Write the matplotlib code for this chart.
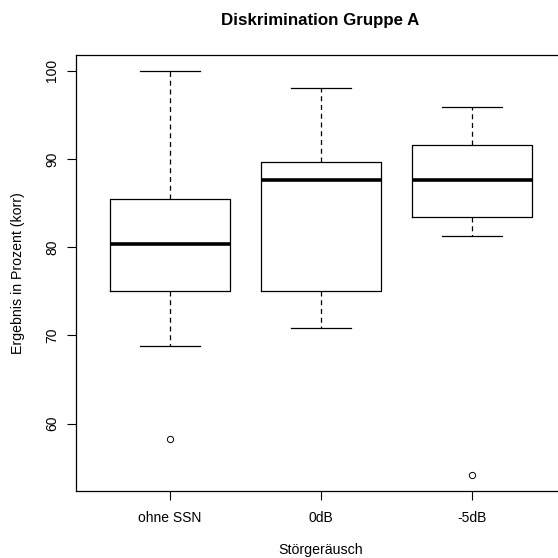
import matplotlib
matplotlib.use("Agg")
import matplotlib.pyplot as plt

categories = ["ohne SSN", "0dB", "-5dB"]
whislo = [68.8, 70.85, 81.3]
q1 = [75.05, 75.05, 83.4]
med = [80.35, 87.6, 87.6]
q3 = [85.45, 89.6, 91.6]
whishi = [100.0, 98.05, 95.9]
fliers = [[58.3], [], [54.2]]
yticks = [60, 70, 80, 90, 100]

plt.rcParams['font.family'] = ['Liberation Sans', 'DejaVu Sans']

W = H = 558
fig = plt.figure(figsize=(W / 100, H / 100), dpi=100)
left, right, top, bottom = 76.4, 565.6, 54.5, 491.0
ax = fig.add_axes([left / W, 1 - bottom / H, (right - left) / W, (bottom - top) / H])

stats = []
for i in range(len(categories)):
    stats.append(dict(whislo=whislo[i], q1=q1[i], med=med[i], q3=q3[i],
                      whishi=whishi[i], fliers=fliers[i], label=categories[i]))

ax.bxp(stats, positions=[1, 2, 3], widths=0.8, showfliers=True,
       boxprops=dict(color='black', linewidth=0.9),
       medianprops=dict(color='black', linewidth=2.6, solid_capstyle='butt'),
       whiskerprops=dict(color='black', linewidth=0.9, linestyle=(0, (4, 3))),
       capprops=dict(color='black', linewidth=0.9),
       capwidths=0.4,
       flierprops=dict(marker='o', markersize=4.5, markerfacecolor='none',
                       markeredgecolor='black', markeredgewidth=0.7))

ax.set_xlim(0.38, 3.62)
ax.set_ylim(52.37, 101.83)
ax.set_yticks(yticks)
ax.set_yticklabels([str(t) for t in yticks], rotation=90, va='center')
ax.set_xticks([1, 2, 3])
ax.set_xticklabels(categories)
ax.tick_params(axis='both', labelsize=10, length=6.5, width=0.8, color='black')
ax.tick_params(axis='y', pad=6)
ax.tick_params(axis='x', pad=8)
for s in ax.spines.values():
    s.set_linewidth(0.9)
    s.set_color('black')

fig.text(18 / W, 1 - ((top + bottom) / 2) / H, "Ergebnis in Prozent (korr)",
         rotation=90, ha='center', va='center', fontsize=10.2)
fig.text(321 / W, 1 - 550 / H, "Störgeräusch", ha='center', va='center', fontsize=10.2)
fig.text(320 / W, 1 - 20 / H, "Diskrimination Gruppe A", ha='center', va='center',
         fontsize=12.2, fontweight='bold')

fig.savefig("out.png", dpi=100)
